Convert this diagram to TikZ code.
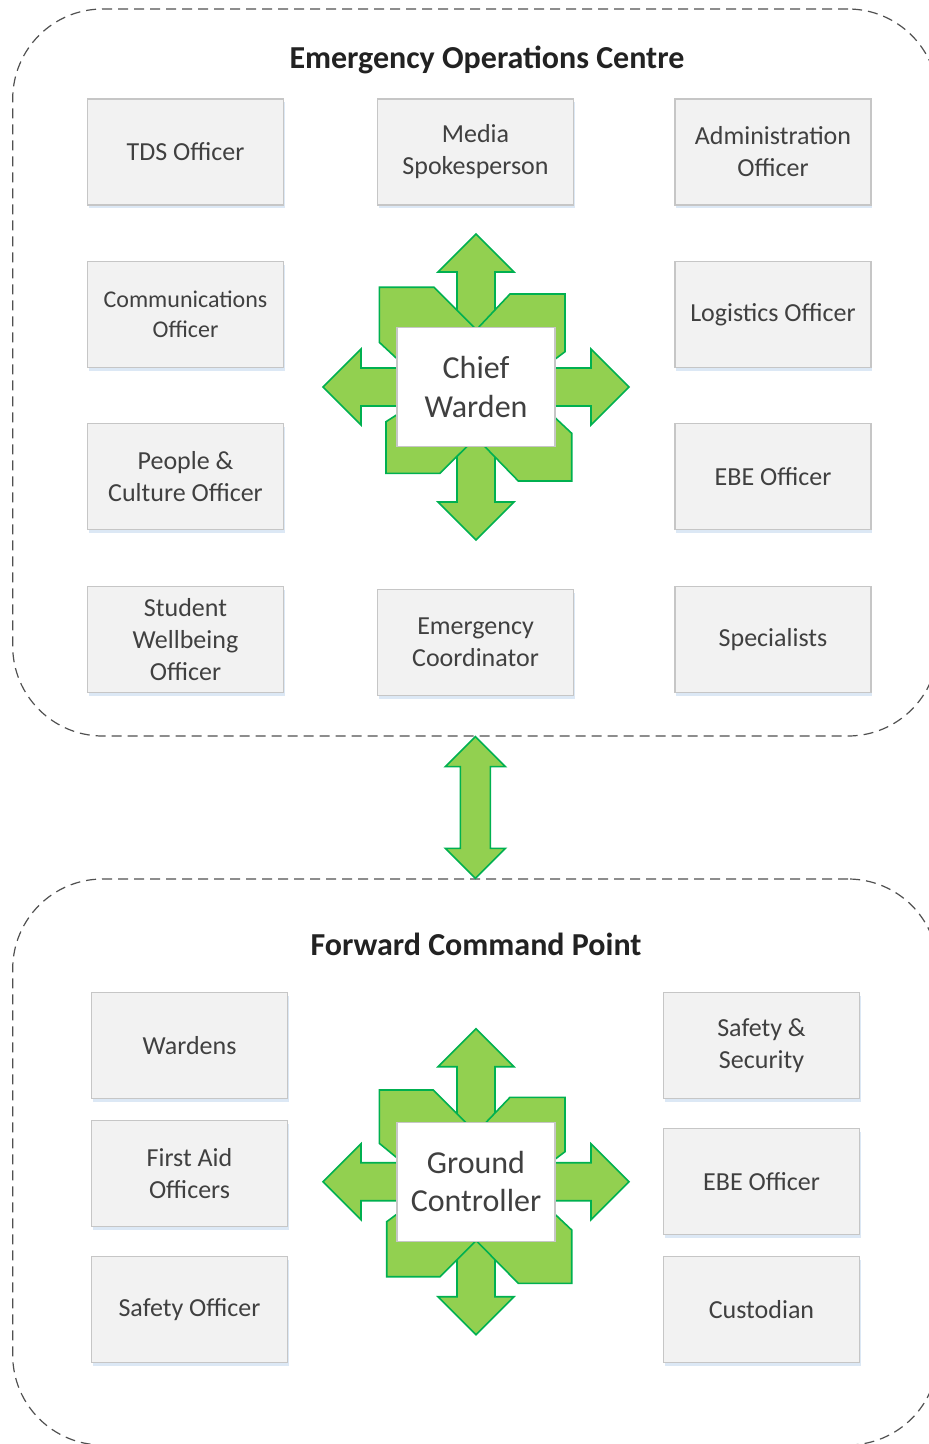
\documentclass[tikz,border=0pt]{standalone}
\usepackage{fontspec}
\setmainfont{Carlito}
\usetikzlibrary{calc,shadows}

\definecolor{boxfill}{HTML}{F2F2F2}
\definecolor{boxline}{HTML}{C6C6C6}
\definecolor{txt}{HTML}{404040}
\definecolor{titletxt}{HTML}{222222}
\definecolor{leaf}{HTML}{92D050}
\definecolor{leafline}{HTML}{00B050}
\definecolor{glow}{HTML}{DCE8F5}
\definecolor{dashgray}{HTML}{505050}

% four-way arrow centred on the origin of the current scope
\newcommand{\fourway}{%
  \draw[leafshape] (0,-153) -- (38,-115) -- (19,-115) -- (19,-19) -- (115,-19)
    -- (115,-38) -- (153,0) -- (115,38) -- (115,19) -- (19,19) -- (19,115)
    -- (38,115) -- (0,153) -- (-38,115) -- (-19,115) -- (-19,19) -- (-115,19)
    -- (-115,38) -- (-153,0) -- (-115,-38) -- (-115,-19) -- (-19,-19)
    -- (-19,-115) -- (-38,-115) -- cycle;}

\tikzset{
  role/.style={draw=boxline, fill=boxfill, line width=0.6pt,
    minimum width=98pt, minimum height=53pt, inner sep=2pt,
    text=txt, align=center, font=\fontsize{13}{16}\selectfont,
    drop shadow={shadow xshift=0.6pt, shadow yshift=-1.6pt, fill=glow, opacity=1}},
  hub/.style={draw=boxline, fill=white, line width=0.6pt,
    minimum width=79pt, minimum height=59.5pt, inner sep=2pt,
    text=txt, align=center, font=\fontsize{16}{19.2}\selectfont},
  leafshape/.style={draw=leafline, fill=leaf, line width=0.8pt, line join=miter},
  container/.style={draw=dashgray, dash pattern=on 5pt off 3pt, line width=0.6pt,
    rounded corners=45pt, inner sep=0pt},
  heading/.style={text=titletxt, font=\fontsize{16}{19}\selectfont\bfseries},
}

\begin{document}
\begin{tikzpicture}[x=0.5pt, y=-0.5pt]
\useasboundingbox (0,0) rectangle (929,1444);

% ---- section frames ----
\node[container, minimum width=462.65pt, minimum height=363.5pt] (eoc) at (475.35,372.5) {};
\node[container, minimum width=462.65pt, minimum height=283pt] (fcp) at (475.35,1162) {};

\node[heading] (eoctitle) at (487,60) {Emergency Operations Centre};
\node[heading] (fcptitle) at (476,944) {Forward Command Point};

% ---- link between the two sections ----
\draw[leafshape] (eoc.south) -- ++(30,30) -- ++(-15,0) -- ($(fcp.north)+(15,-30)$)
  -- ++(15,0) -- (fcp.north) -- ++(-30,-30) -- ++(15,0)
  -- ($(eoc.south)+(-15,30)$) -- ++(-15,0) -- cycle;

% ---- Chief Warden hub ----
\coordinate (cwc) at (476,387);
\begin{scope}[shift={(cwc)}]
  \fourway
  \draw[leafshape] (-96.7,-99.7) -- (-42,-99.7) -- (-0.3,-58) -- (-0.3,-27.3) -- (-78,-27.3) -- (-96.7,-44.7) -- cycle;
  \draw[leafshape] (1,-58) -- (34,-93) -- (89,-93) -- (89,-35.3) -- (78,-27) -- (1,-27) -- cycle;
  \draw[leafshape] (-78,27) -- (-90,34.7) -- (-90,86.3) -- (-36,86.3) -- (-7.6,58) -- (-7.6,27) -- cycle;
  \draw[leafshape] (78,29.7) -- (95.7,46.3) -- (95.7,94) -- (42.3,94) -- (7.3,58) -- (7.3,29.7) -- cycle;
\end{scope}
\node[hub] (cw) at (cwc) {Chief\\Warden};

% ---- Ground Controller hub ----
\coordinate (gcc) at (476,1181.7);
\begin{scope}[shift={(gcc)}]
  \fourway
  \draw[leafshape] (-96.7,-91.7) -- (-42.7,-91.7) -- (-9,-58) -- (-9,-23) -- (-78,-23) -- (-96.7,-38.4) -- cycle;
  \draw[leafshape] (8.8,-58) -- (34,-84.4) -- (89,-84.4) -- (89,-30) -- (78,-21.7) -- (8.8,-21.7) -- cycle;
  \draw[leafshape] (-78,31.6) -- (-89.3,40) -- (-89.3,95) -- (-36,95) -- (1,58) -- (1,31.6) -- cycle;
  \draw[leafshape] (78,31.6) -- (95.7,48.3) -- (95.7,101.6) -- (42.3,101.6) -- (-0.7,58) -- (-0.7,31.6) -- cycle;
\end{scope}
\node[hub] (gc) at (gcc) {Ground\\Controller};

% ---- Emergency Operations Centre roles ----
\node[role] (tds)   at (185.5,152)   {TDS Officer};
\node[role] (media) at (475.5,152)   {Media\\Spokesperson};
\node[role] (admin) at (773,152)     {Administration\\Officer};
\node[role, font=\fontsize{12}{15}\selectfont] (comms) at (185.5,314.5) {Communications\\Officer};
\node[role] (logi)  at (773,314.5)   {Logistics Officer};
\node[role] (pco)   at (185.5,476.5) {People \&\\Culture Officer};
\node[role] (ebea)  at (773,476.5)   {EBE Officer};
\node[role] (swo)   at (185.5,639.5) {Student\\Wellbeing\\Officer};
\node[role] (ecoord) at (475.5,642.5) {Emergency\\Coordinator};
\node[role] (spec)  at (773,639.5)   {Specialists};

% ---- Forward Command Point roles ----
\node[role] (wardens) at (189.5,1045.5) {Wardens};
\node[role] (firstaid) at (189.5,1173.5) {First Aid\\Officers};
\node[role] (safety)  at (189.5,1309.5) {Safety Officer};
\node[role] (safesec) at (761.5,1045.5) {Safety \&\\Security};
\node[role] (ebeb)    at (761.5,1181.5) {EBE Officer};
\node[role] (cust)    at (761.5,1309.5) {Custodian};
\end{tikzpicture}
\end{document}
